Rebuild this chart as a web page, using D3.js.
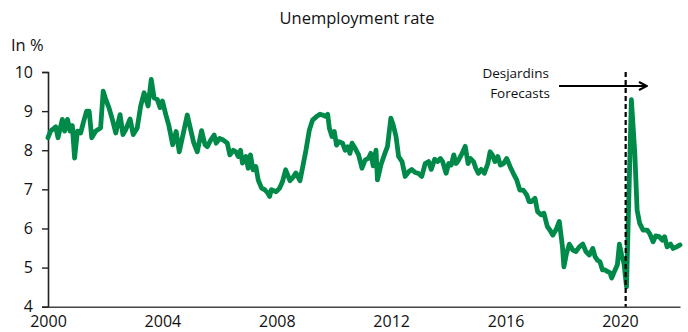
<!DOCTYPE html>
<html>
<head>
<meta charset="utf-8">
<script src="https://cdn.jsdelivr.net/npm/d3@7"></script>
<style>
  html, body { margin: 0; padding: 0; background: #fff; }
  svg { display: block; font-family: "Open Sans", "Noto Sans", sans-serif; }
</style>
</head>
<body>
<svg id="chart" width="688" height="332"></svg>
<script>
// ---- data (decimal years, unemployment rate in %) ----
const years = [
  2000.0,2000.09,2000.27,2000.35,2000.5,2000.58,2000.68,2000.77,2000.85,2000.93,
  2001.03,2001.14,2001.24,2001.35,2001.44,2001.53,2001.67,2001.84,2001.93,
  2002.02,2002.13,2002.25,2002.37,2002.52,2002.62,2002.72,2002.87,2002.98,
  2003.12,2003.24,2003.36,2003.5,2003.61,2003.71,2003.82,2003.92,
  2004.0,2004.12,2004.23,2004.36,2004.48,2004.59,2004.73,2004.87,2004.99,
  2005.1,2005.22,2005.37,2005.49,2005.57,2005.69,2005.81,2005.88,
  2006.0,2006.13,2006.27,2006.36,2006.48,2006.57,2006.65,2006.73,2006.8,2006.92,
  2007.0,2007.08,2007.17,2007.27,2007.35,2007.47,2007.58,2007.69,2007.75,2007.81,2007.98,
  2008.1,2008.2,2008.31,2008.46,2008.58,2008.67,2008.81,2008.92,
  2009.02,2009.14,2009.25,2009.39,2009.51,2009.6,2009.7,2009.78,2009.84,2009.93,
  2010.01,2010.09,2010.18,2010.3,2010.39,2010.48,2010.56,2010.63,2010.74,2010.86,2010.98,
  2011.09,2011.21,2011.29,2011.37,2011.47,2011.52,2011.64,2011.76,2011.87,2011.99,
  2012.07,2012.17,2012.26,2012.38,2012.49,2012.61,2012.72,2012.84,2012.95,
  2013.07,2013.19,2013.31,2013.4,2013.52,2013.63,2013.72,2013.8,2013.92,
  2014.01,2014.1,2014.19,2014.27,2014.36,2014.48,2014.59,2014.69,2014.77,2014.88,2014.96,
  2015.05,2015.15,2015.26,2015.38,2015.46,2015.54,2015.63,2015.73,2015.82,2015.93,
  2016.04,2016.16,2016.27,2016.39,2016.5,2016.62,2016.74,2016.82,2016.91,
  2017.03,2017.12,2017.24,2017.34,2017.46,2017.55,2017.65,2017.76,2017.88,2017.99,
  2018.04,2018.13,2018.23,2018.35,2018.46,2018.58,2018.7,2018.81,2018.93,
  2019.05,2019.13,2019.21,2019.3,2019.39,2019.48,2019.56,2019.65,2019.71,2019.83,2019.91,2019.98,
  2020.06,2020.14,2020.23,2020.4,2020.52,2020.6,2020.69,2020.81,2020.95,
  2021.04,2021.16,2021.25,2021.37,2021.48,2021.56,2021.65,2021.77,2021.86,2021.98,2022.1
];
const rates = [
  8.32,8.49,8.6,8.32,8.79,8.49,8.79,8.49,8.63,7.8,
  8.49,8.44,8.72,9.0,9.0,8.32,8.49,8.57,9.51,
  9.3,9.09,8.79,8.44,8.91,8.4,8.53,8.8,8.4,
  8.57,9.13,9.47,9.13,9.81,9.34,9.3,9.09,
  9.26,8.91,8.62,8.14,8.48,7.96,8.43,8.9,8.52,
  8.18,7.96,8.5,8.14,8.09,8.26,8.39,8.18,
  8.3,8.26,8.18,7.88,8.0,7.96,7.84,8.0,7.67,7.84,
  7.54,7.88,7.5,7.58,7.24,7.03,6.99,6.9,6.82,6.99,6.94,
  7.03,7.2,7.5,7.22,7.32,7.42,7.22,7.62,
  8.0,8.52,8.77,8.86,8.92,8.9,8.87,8.92,8.56,8.35,
  8.48,8.13,8.22,8.18,8.0,8.09,7.92,8.18,8.05,7.88,7.54,
  7.75,7.8,7.92,7.6,8.0,7.24,7.62,7.88,8.09,8.82,
  8.65,8.35,7.84,7.71,7.33,7.45,7.51,7.43,7.41,
  7.33,7.66,7.71,7.51,7.77,7.71,7.79,7.71,7.41,
  7.66,7.62,7.88,7.66,7.75,7.92,8.1,7.66,7.79,7.71,7.54,
  7.41,7.51,7.41,7.66,7.96,7.88,7.71,7.84,7.62,7.66,
  7.79,7.58,7.41,7.24,6.98,6.98,6.86,6.69,6.69,
  6.77,6.43,6.35,6.39,6.05,5.96,5.83,5.96,6.18,5.53,
  5.02,5.36,5.6,5.45,5.41,5.53,5.6,5.41,5.32,
  5.49,5.28,5.19,5.15,4.94,4.94,4.9,4.87,4.73,4.94,5.07,5.6,
  5.32,5.11,4.51,9.29,7.92,6.47,6.13,5.96,5.96,
  5.87,5.66,5.81,5.79,5.7,5.79,5.53,5.6,5.49,5.53,5.58
];
const xTicks = [2000, 2004, 2008, 2012, 2016, 2020];
const yTicks = [4, 5, 6, 7, 8, 9, 10];
const forecastStart = 2020.2;
const title = "Unemployment rate";
const unitLabel = "In %";
const annotation = ["Desjardins", "Forecasts"];

// ---- layout ----
const W = 688, H = 332;
const margin = { top: 72, right: 8, bottom: 25.3, left: 48 };
const svg = d3.select("#chart");

const x = d3.scaleLinear().domain([2000, 2022.1]).range([margin.left, W - margin.right]);
const y = d3.scaleLinear().domain([4, 10]).range([H - margin.bottom, margin.top]);

// title
svg.append("text").attr("x", 357).attr("y", 24).attr("text-anchor", "middle")
  .attr("font-size", 16.5).attr("fill", "#111").text(title);
svg.append("text").attr("x", 11).attr("y", 51)
  .attr("font-size", 16.5).attr("fill", "#111").text(unitLabel);

// y axis
const yAxis = svg.append("g").attr("transform", `translate(${margin.left},0)`)
  .call(d3.axisLeft(y).tickValues(yTicks).tickSize(6).tickPadding(9).tickFormat(d3.format("d")));
yAxis.select(".domain").attr("stroke", "#222").attr("stroke-width", 1.6);
yAxis.selectAll(".tick line").attr("stroke", "#222").attr("stroke-width", 1.4);
yAxis.selectAll(".tick text").attr("font-size", 16).attr("fill", "#111")
  .attr("font-family", "'Open Sans', sans-serif");

// x axis
const xAxis = svg.append("g").attr("transform", `translate(0,${H - margin.bottom})`)
  .call(d3.axisBottom(x).tickValues(xTicks).tickSize(0).tickPadding(9).tickFormat(d3.format("d")));
xAxis.select(".domain").attr("stroke", "#444").attr("stroke-width", 1.6);
xAxis.selectAll(".tick text").attr("font-size", 16).attr("fill", "#111")
  .attr("font-family", "'Open Sans', sans-serif");

// series
const pts = years.map((t, i) => [t, rates[i]]);
const line = d3.line().x(d => x(d[0])).y(d => y(d[1])).curve(d3.curveLinear);
svg.append("path").datum(pts).attr("d", line)
  .attr("fill", "none").attr("stroke", "#008a4a").attr("stroke-width", 4.8)
  .attr("stroke-linejoin", "round").attr("stroke-linecap", "round");

// forecast divider
svg.append("line")
  .attr("x1", x(forecastStart)).attr("x2", x(forecastStart))
  .attr("y1", y(10)).attr("y2", y(4))
  .attr("stroke", "#000").attr("stroke-width", 2.2).attr("stroke-dasharray", "5,3");

// arrow
const defs = svg.append("defs");
defs.append("marker").attr("id", "arr").attr("viewBox", "0 0 10 10")
  .attr("refX", 9).attr("refY", 5).attr("markerWidth", 10).attr("markerHeight", 10)
  .attr("markerUnits", "userSpaceOnUse").attr("orient", "auto")
  .append("path").attr("d", "M1,1 L9,5 L1,9").attr("fill", "none")
  .attr("stroke", "#000").attr("stroke-width", 2);
svg.append("line").attr("x1", 559).attr("x2", 647).attr("y1", 86).attr("y2", 86)
  .attr("stroke", "#000").attr("stroke-width", 2).attr("marker-end", "url(#arr)");

svg.append("text").attr("text-anchor", "end").attr("font-size", 13.5).attr("fill", "#111")
  .attr("x", 549).attr("y", 78).text(annotation[0]);
svg.append("text").attr("text-anchor", "end").attr("font-size", 13.5).attr("fill", "#111")
  .attr("x", 550).attr("y", 97.5).text(annotation[1]);
</script>
</body>
</html>
